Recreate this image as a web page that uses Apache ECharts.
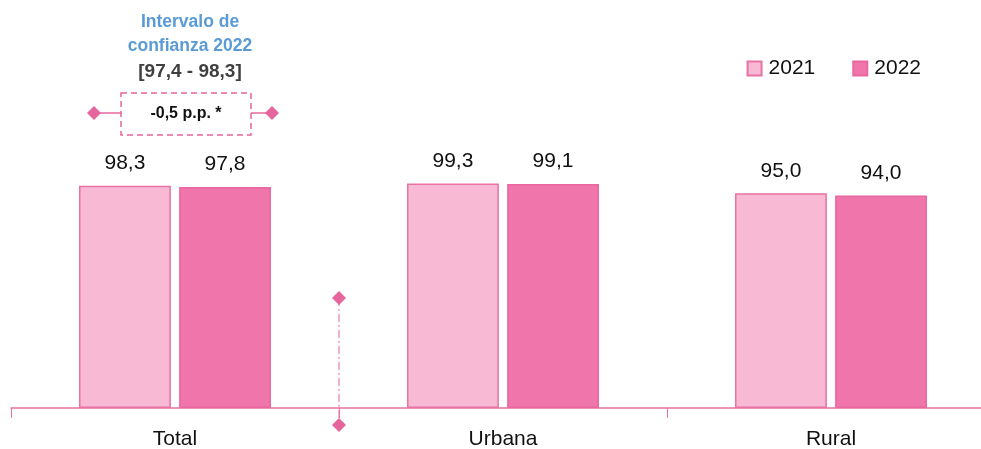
<!DOCTYPE html>
<html>
<head>
<meta charset="utf-8">
<script src="https://cdn.jsdelivr.net/npm/echarts@6/dist/echarts.min.js"></script>
<style>
html,body{margin:0;padding:0;background:#fff;}
#c{width:981px;height:449px;}
</style>
</head>
<body>
<div id="c"></div>
<script>
const categories = ['Total', 'Urbana', 'Rural'];
const seriesNames = ['2021', '2022'];
const values2021 = [98.3, 99.3, 95.0];
const values2022 = [97.8, 99.1, 94.0];
const ciTitle = ['Intervalo de', 'confianza 2022'];
const ciRange = '[97,4 - 98,3]';
const diffLabel = '-0,5 p.p. *';

const FONT = "'Liberation Sans', Arial, sans-serif";
const fmt = v => v.toFixed(1).replace('.', ',');

const chart = echarts.init(document.getElementById('c'), null, {renderer: 'canvas'});

const labelCfg = {
  show: true, position: 'top', distance: 12,
  color: '#111', fontSize: 21, fontFamily: FONT,
  formatter: p => fmt(p.value)
};

chart.setOption({
  animation: false,
  backgroundColor: '#fff',
  grid: {left: 11, width: 984, top: 182, bottom: 41, containLabel: false, outerBoundsMode: 'none'},
  legend: {
    data: seriesNames, right: 55, top: 53,
    itemWidth: 14, itemHeight: 14, itemGap: 37,
    icon: 'rect',
    textStyle: {fontSize: 21, fontFamily: FONT, color: '#111', padding: [0, 0, 0, 2]}
  },
  xAxis: {
    type: 'category', data: categories,
    axisLine: {lineStyle: {color: '#E9719F', width: 1.5}},
    axisTick: {show: true, length: 10, lineStyle: {color: '#E9719F'}},
    axisLabel: {fontSize: 21, fontFamily: FONT, color: '#111', margin: 21}
  },
  yAxis: {type: 'value', min: 0, max: 100, show: false, splitLine: {show: false}},
  series: [
    {
      name: seriesNames[0], type: 'bar', data: values2021,
      barWidth: '28%', barGap: '9%',
      itemStyle: {color: '#F8B9D4', borderColor: '#E872A3', borderWidth: 1.5},
      label: labelCfg
    },
    {
      name: seriesNames[1], type: 'bar', data: values2022,
      barWidth: '28%',
      itemStyle: {color: '#F075AB', borderColor: '#E8679F', borderWidth: 1.5},
      label: labelCfg
    }
  ]
});

// Annotations positioned relative to the Total category
const cx = chart.convertToPixel({xAxisIndex: 0}, categories[0]);
const bx = chart.convertToPixel({xAxisIndex: 0}, categories[1]);
const sep = (cx + bx) / 2;
const pink = '#E5669C';
const diamond = (x, y) => ({
  type: 'polygon', shape: {points: [[x, y - 7], [x + 7, y], [x, y + 7], [x - 7, y]]},
  style: {fill: pink}
});
const ax = cx + 15;
chart.setOption({
  graphic: [
    {type: 'text', style: {text: ciTitle.join('\n'), x: ax, y: 10, align: 'center',
      fill: '#5B9BD5', font: 'bold 17.5px ' + FONT, lineHeight: 24}},
    {type: 'text', style: {text: ciRange, x: ax, y: 62, align: 'center',
      fill: '#404040', font: 'bold 19px ' + FONT}},
    {type: 'rect', shape: {x: 121, y: 93, width: 130, height: 42},
      style: {fill: 'none', stroke: pink, lineWidth: 1.5, lineDash: [6, 4]}},
    {type: 'text', style: {text: diffLabel, x: 186, y: 114, align: 'center', verticalAlign: 'middle',
      fill: '#111', font: 'bold 16px ' + FONT}},
    {type: 'line', shape: {x1: 94, y1: 113, x2: 121, y2: 113}, style: {stroke: pink, lineWidth: 1.5}},
    {type: 'line', shape: {x1: 251, y1: 113, x2: 272, y2: 113}, style: {stroke: pink, lineWidth: 1.5}},
    diamond(94, 113),
    diamond(272, 113),
    {type: 'line', shape: {x1: sep, y1: 298, x2: sep, y2: 425},
      style: {stroke: pink, lineWidth: 1, lineDash: [8, 3, 2, 3]}},
    diamond(sep, 298),
    diamond(sep, 425)
  ]
});
</script>
</body>
</html>
